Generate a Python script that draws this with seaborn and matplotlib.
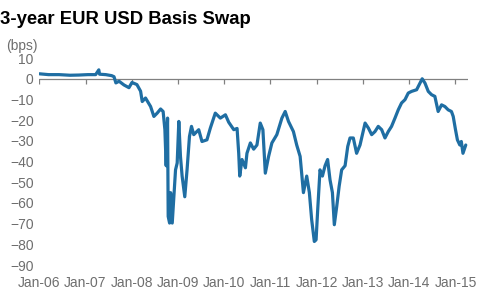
import matplotlib
matplotlib.use("Agg")
import matplotlib.pyplot as plt
import seaborn as sns
import pandas as pd

dates = [
    "2006-01-02", "2006-03-15", "2006-06-06", "2006-09-01", "2006-11-10", "2007-01-20",
    "2007-03-22", "2007-04-16", "2007-04-22", "2007-06-10", "2007-07-27", "2007-08-14",
    "2007-08-29", "2007-09-23", "2007-11-01", "2007-12-10", "2008-01-03", "2008-02-11",
    "2008-03-11", "2008-03-24", "2008-04-19", "2008-05-29", "2008-06-24", "2008-07-20",
    "2008-08-16", "2008-09-05", "2008-09-19", "2008-09-29", "2008-10-10", "2008-10-15",
    "2008-10-26", "2008-11-03", "2008-11-16", "2008-11-29", "2008-12-12", "2008-12-25",
    "2009-01-07", "2009-01-20", "2009-02-02", "2009-02-23", "2009-03-13", "2009-04-01",
    "2009-04-17", "2009-05-05", "2009-06-13", "2009-07-09", "2009-08-17", "2009-09-13",
    "2009-10-22", "2009-12-01", "2010-01-10", "2010-02-05", "2010-03-17", "2010-04-12",
    "2010-04-25", "2010-05-03", "2010-05-21", "2010-06-17", "2010-06-29", "2010-07-26",
    "2010-08-21", "2010-09-16", "2010-10-12", "2010-11-02", "2010-11-21", "2010-12-17",
    "2011-01-12", "2011-02-20", "2011-04-01", "2011-04-27", "2011-05-23", "2011-07-01",
    "2011-07-27", "2011-08-23", "2011-09-18", "2011-10-14", "2011-11-04", "2011-11-22",
    "2011-12-13", "2011-12-27", "2012-01-09", "2012-01-27", "2012-02-15", "2012-03-07",
    "2012-03-27", "2012-04-15", "2012-05-04", "2012-05-19", "2012-06-07", "2012-06-26",
    "2012-07-16", "2012-08-12", "2012-09-02", "2012-09-20", "2012-10-16", "2012-11-11",
    "2012-12-08", "2013-01-17", "2013-02-12", "2013-03-10", "2013-04-05", "2013-05-01",
    "2013-05-28", "2013-06-23", "2013-07-19", "2013-08-14", "2013-09-10", "2013-10-06",
    "2013-11-01", "2013-11-28", "2013-12-24", "2014-01-19", "2014-02-28", "2014-03-26",
    "2014-04-13", "2014-05-05", "2014-05-31", "2014-06-26", "2014-07-22", "2014-08-17",
    "2014-09-13", "2014-10-09", "2014-11-04", "2014-11-30", "2014-12-14", "2015-01-01",
    "2015-01-16", "2015-02-04", "2015-02-16", "2015-03-01", "2015-03-23",
]
basis_bps = [
    2.4, 2.0, 2.0, 1.7, 1.8, 2.0,
    2.0, 4.3, 2.2, 2.0, 1.5, 1.0,
    -2.0, -1.2, -3.0, -4.3, -1.8, -2.8,
    -6.0, -11.0, -9.3, -13.4, -18.2, -16.6,
    -14.6, -15.8, -24.6, -42.0, -19.0, -66.5,
    -69.7, -55.0, -69.7, -57.0, -44.0, -40.7,
    -20.6, -37.5, -47.0, -57.0, -44.0, -27.9,
    -23.0, -27.0, -24.6, -30.3, -29.5, -23.8,
    -16.6, -19.0, -17.4, -21.0, -24.6, -24.0,
    -36.0, -47.0, -39.0, -43.0, -36.0, -31.0,
    -34.0, -32.0, -21.4, -24.6, -45.6, -37.5,
    -31.0, -27.0, -19.0, -15.8, -20.6, -25.5,
    -32.0, -37.5, -55.0, -47.0, -55.0, -68.0,
    -78.6, -77.8, -63.0, -44.0, -47.0, -42.0,
    -39.0, -48.8, -55.0, -70.5, -61.7, -52.0,
    -44.0, -42.0, -32.7, -28.6, -28.6, -36.0,
    -32.0, -21.4, -23.8, -27.0, -25.5, -23.0,
    -24.6, -28.6, -25.5, -23.0, -19.0, -15.0,
    -11.7, -10.1, -6.9, -6.1, -5.3, -2.1,
    0.0, -2.1, -6.1, -7.7, -8.5, -15.8,
    -12.6, -13.4, -15.0, -15.8, -18.2, -24.6,
    -29.5, -32.0, -30.3, -36.0, -32.0,
]
tick_years = list(range(2006, 2016))
tick_labels = ["Jan-%02d" % (y % 100) for y in tick_years]
y_ticks = list(range(-90, 11, 10))

sns.set_style("white")
plt.rcParams["font.family"] = ["Liberation Sans", "DejaVu Sans"]

df = pd.DataFrame({"date": pd.to_datetime(dates), "bps": basis_bps})

fig = plt.figure(figsize=(4.82, 3.04), dpi=100)
ax = fig.add_axes([0.0815, 0.128, 0.889, 0.681])

sns.lineplot(data=df, x="date", y="bps", ax=ax, color="#1f6ea3", linewidth=2.3)

ax.set_xlim(pd.Timestamp("2006-01-01"), pd.Timestamp("2015-04-08"))
ax.set_ylim(-90, 10)
for s in ax.spines.values():
    s.set_visible(False)

tick_dates = pd.to_datetime(["%d-01-01" % y for y in tick_years])
ax.set_xticks(tick_dates)
ax.set_xticklabels(tick_labels)
ax.set_yticks(y_ticks)
ax.tick_params(axis="both", length=0, labelsize=10, labelcolor="#6e6e6e")
ax.tick_params(axis="x", pad=8)
ax.tick_params(axis="y", pad=4)
ax.set_xlabel("")
ax.set_ylabel("")

# zero axis line with downward tick marks
ax.axhline(0, color="#808080", linewidth=0.9, zorder=1)
ax.vlines(tick_dates, -2.4, 0, color="#808080", linewidth=0.9, zorder=1)

fig.text(0.0, 1 - 23.5 / 304, "3-year EUR USD Basis Swap", fontsize=13.3,
         fontweight="bold", color="black", va="baseline", ha="left")
fig.text(6 / 482, 1 - 46 / 304, "(bps)", fontsize=10, color="#6e6e6e",
         va="center", ha="left")

fig.savefig("out.png", dpi=100)
